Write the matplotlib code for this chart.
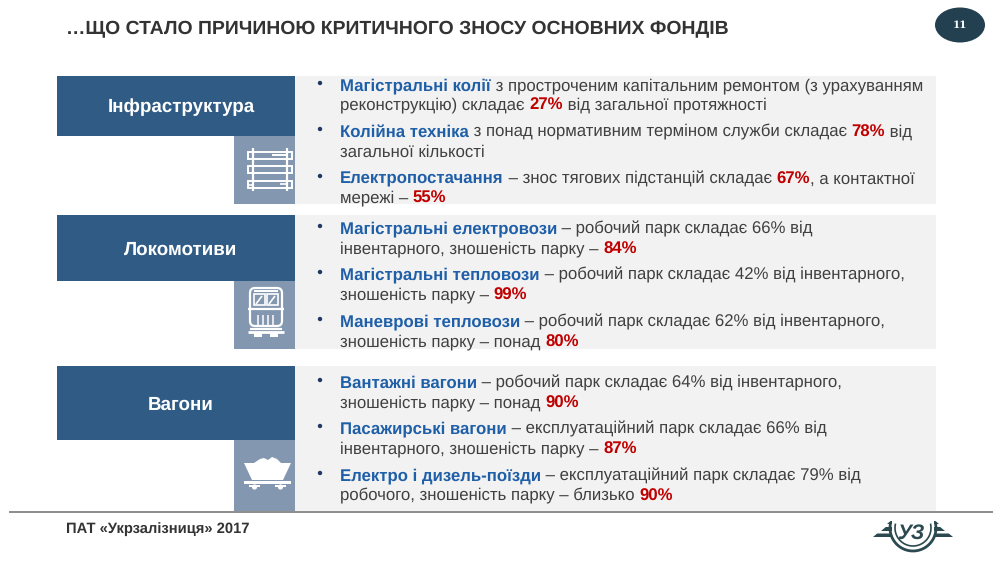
import matplotlib.patches as patches
import matplotlib.pyplot as plt
import numpy as np

plt.rcParams["font.family"] = ["Liberation Sans", "DejaVu Sans"]
plt.rcParams["text.hinting"] = "no_hinting"

title = "…ЩО СТАЛО ПРИЧИНОЮ КРИТИЧНОГО ЗНОСУ ОСНОВНИХ ФОНДІВ"
footer = "ПАТ «Укрзалізниця» 2017"
page_number = "11"
section_names = ["Інфраструктура", "Локомотиви", "Вагони"]

# n - plain, b - blue bold, r - red bold
infra_lines = [
    [("Магістральні колії", "b"), (" з простроченим капітальним ремонтом (з урахуванням", "n")],
    [("реконструкцію) складає ", "n"), ("27%", "r"), (" від загальної протяжності", "n")],
    [("Колійна техніка", "b"), (" з понад нормативним терміном служби складає ", "n"), ("78%", "r"), (" від", "n")],
    [("загальної кількості", "n")],
    [("Електропостачання", "b"), (" – знос тягових підстанцій складає ", "n"), ("67%", "r"), (", а контактної", "n")],
    [("мережі – ", "n"), ("55%", "r")],
]
loco_lines = [
    [("Магістральні електровози", "b"), (" – робочий парк складає 66% від", "n")],
    [("інвентарного, зношеність парку – ", "n"), ("84%", "r")],
    [("Магістральні тепловози", "b"), (" – робочий парк складає 42% від інвентарного,", "n")],
    [("зношеність парку – ", "n"), ("99%", "r")],
    [("Маневрові тепловози", "b"), (" – робочий парк складає 62% від інвентарного,", "n")],
    [("зношеність парку – понад ", "n"), ("80%", "r")],
]
wagon_lines = [
    [("Вантажні вагони", "b"), (" – робочий парк складає 64% від інвентарного,", "n")],
    [("зношеність парку – понад ", "n"), ("90%", "r")],
    [("Пасажирські вагони", "b"), (" – експлуатаційний парк складає 66% від", "n")],
    [("інвентарного, зношеність парку – ", "n"), ("87%", "r")],
    [("Електро і дизель-поїзди", "b"), (" – експлуатаційний парк складає 79% від", "n")],
    [("робочого, зношеність парку – близько ", "n"), ("90%", "r")],
]

DARK = "#2f5b85"
LIGHT = "#8497b0"
GREY = "#f2f2f2"
BODY_SIZE = 12.06
STYLES = {
    "n": {"color": "#404040", "fontweight": "normal"},
    "b": {"color": "#1f5fa8", "fontweight": "bold"},
    "r": {"color": "#c00000", "fontweight": "bold"},
}

fig = plt.figure(figsize=(10, 5.61), dpi=100)
ax = fig.add_axes([0, 0, 1, 1])
ax.set_xlim(0, 1000)
ax.set_ylim(561, 0)
ax.axis("off")


def rect(x0, y0, x1, y1, color):
    ax.add_patch(patches.Rectangle((x0, y0), x1 - x0, y1 - y0, facecolor=color, edgecolor="none"))


def draw_runs(x, y, runs):
    renderer = fig.canvas.get_renderer()
    for text, style in runs:
        ax.text(x, y, text, va="baseline", fontsize=BODY_SIZE, **STYLES[style])
        # keep trailing spaces in the width
        probe = ax.text(0, 0, text.replace(" ", "\u00a0"), fontsize=BODY_SIZE, **STYLES[style])
        x += probe.get_window_extent(renderer).width
        probe.remove()


def white(xs, ys, lw=1.3):
    ax.plot(xs, ys, color="white", lw=lw, solid_capstyle="butt")


def rail_icon():
    for y0 in [151.5, 166, 180.5]:
        ax.add_patch(patches.Rectangle((248, y0), 44, 7, fill=False, edgecolor="white", lw=1.4))
    white([253, 253], [148, 191], 1.6)
    white([287, 287], [148, 191], 1.6)
    white([272, 287], [155, 155], 1.4)
    white([248, 252], [185, 185], 1.2)
    white([280, 287], [184, 184], 1.2)


def loco_icon():
    ax.add_patch(patches.FancyBboxPatch((250, 288), 32, 38, boxstyle="round,pad=0,rounding_size=5",
                                        fill=False, edgecolor="white", lw=1.6))
    ax.add_patch(patches.Rectangle((254, 294), 11, 11, fill=False, edgecolor="white", lw=1.2))
    ax.add_patch(patches.Rectangle((267, 294), 11, 11, fill=False, edgecolor="white", lw=1.2))
    white([256, 262], [304, 296], 1.2)
    white([269, 275], [304, 296], 1.2)
    white([248, 284], [309, 309], 1.6)
    white([254, 278], [291, 291], 1.4)
    white([250, 282], [329, 329], 1.6)
    white([248, 284], [332, 332], 2)
    for x0 in [258, 263, 268, 273]:
        white([x0, x0], [315, 326], 1.1)
    rect(254, 333, 262, 337, "white")
    rect(270, 333, 278, 337, "white")


def wagon_icon():
    ax.add_patch(patches.Polygon([[244, 463], [291, 463], [283, 480], [252, 480]], color="white", lw=0))
    ax.add_patch(patches.Polygon([[254, 463], [260, 459], [264, 458], [268, 460], [272, 457], [277, 459], [281, 463]],
                                 color="white", lw=0))
    rect(244, 481, 291, 483.5, "white")
    for x0 in [249, 275]:
        rect(x0, 484.5, x0 + 11, 487, "white")
        ax.add_patch(patches.Circle((x0 + 5.5, 487), 2.6, color="white", lw=0))


def logo():
    c = "#2a4a50"
    # left and right wings, three stripes each, stopping at the ring
    for y0, y1, xo in [(521, 524, 887), (527, 531, 881), (533.5, 537, 873)]:
        ax.add_patch(patches.Polygon([[xo, y1], [xo + (y1 - y0) * 1.2, y0], [892, y0], [892, y1]], color=c, lw=0))
        xr = 1826 - xo
        ax.add_patch(patches.Polygon([[xr, y1], [xr - (y1 - y0) * 1.2, y0], [934, y0], [934, y1]], color=c, lw=0))
    t = np.linspace(-0.2, np.pi + 0.2, 40)
    ax.plot(913 + 23 * np.cos(t), 528 + 23 * np.sin(t), color=c, lw=2)
    ax.plot(913 + 18 * np.cos(t), 528 + 18 * np.sin(t), color=c, lw=1.2)
    ax.text(911, 533, "УЗ", fontsize=15, fontweight="bold", style="italic", color=c, ha="center", va="center")


sections = [
    (section_names[0], infra_lines, (76, 136, 204), rail_icon, [85, 104, 131, 151, 178, 197]),
    (section_names[1], loco_lines, (215, 281, 349), loco_icon, [228, 248, 274, 294, 321, 341]),
    (section_names[2], wagon_lines, (366, 440, 511), wagon_icon, [382, 402, 428, 448, 475, 495]),
]

for name, lines, (top, mid, bottom), icon, centers in sections:
    rect(295, top, 936, bottom, GREY)
    rect(57, top, 295, mid, DARK)
    rect(234, mid, 295, bottom, LIGHT)
    ax.text(181, (top + mid) / 2 + 1.5, name, color="white", fontsize=13.5, fontweight="bold",
            ha="center", va="center")
    icon()
    for i, (runs, cy) in enumerate(zip(lines, centers)):
        if i % 2 == 0:
            ax.add_patch(patches.Circle((320, cy - 2), 2.2, color="#1f3864", lw=0))
        draw_runs(340, cy + 5.5, runs)

ax.text(66, 29, title, color="#333333", fontsize=13.96, fontweight="bold", va="center")
ax.add_patch(patches.Ellipse((960, 25), 50, 35, color="#22404f", lw=0))
ax.text(960, 25, page_number, color="white", fontsize=7.5, fontweight="bold", family="DejaVu Serif",
        ha="center", va="center")
ax.plot([10, 992], [512, 512], color="#8c8c8c", lw=1.4)
ax.text(66, 529.5, footer, color="#333333", fontsize=10.65, fontweight="bold", va="center")
logo()

fig.savefig("out.png", dpi=100)
